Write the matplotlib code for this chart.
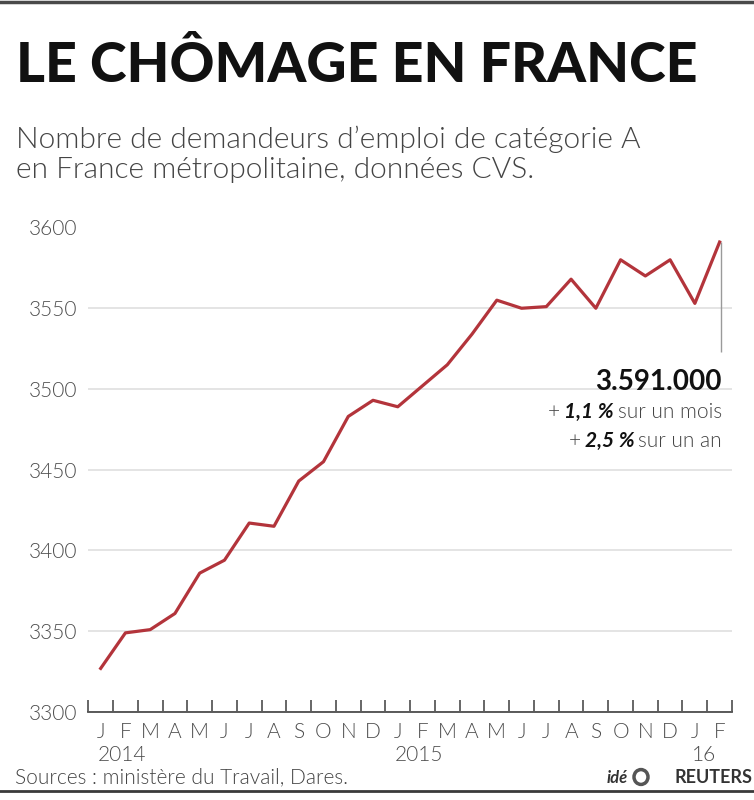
import matplotlib
matplotlib.use('Agg')
import matplotlib.pyplot as plt
from matplotlib.lines import Line2D
from matplotlib.patches import Circle
import numpy as np

# monthly values, Jan 2014 .. Feb 2016 (thousands)
months = ['J', 'F', 'M', 'A', 'M', 'J', 'J', 'A', 'S', 'O', 'N', 'D'] * 2 + ['J', 'F']
values = [3327, 3349, 3351, 3361, 3386, 3394, 3417, 3415, 3443, 3455, 3483, 3493,
          3489, 3502, 3515, 3534, 3555, 3550, 3551, 3568, 3550, 3580, 3570, 3580,
          3553, 3591]
years = ['2014', '2015', '16']
year_start = [0, 12, 24]
yticks = [3300, 3350, 3400, 3450, 3500, 3550, 3600]

title = 'LE CHÔMAGE EN FRANCE'
subtitle = ['Nombre de demandeurs d\u2019emploi de catégorie A',
            'en France métropolitaine, données CVS.']
last_label = '3.591.000'
month_change = '1,1 %'
year_change = '2,5 %'
source = 'Sources : ministère du Travail, Dares.'

plt.rcParams['font.family'] = ['Lato', 'DejaVu Sans']

W, H = 754, 800
fig = plt.figure(figsize=(W / 100, H / 100), dpi=100)
fig.patch.set_facecolor('white')


def fx(px):
    return px / W


def fy(py):
    return 1 - py / H


GREY = '#4d4d4d'

# plot area
ax = fig.add_axes([fx(88.3), fy(712), (732 - 88.3) / W, (712 - 227.5) / H])
n = len(values)
ax.plot(range(n), values, color='#b3343b', lw=2.3, zorder=3)
ax.set_xlim(-0.5, n - 0.5)
ax.set_ylim(yticks[0], yticks[-1])
for s in ['top', 'right', 'left']:
    ax.spines[s].set_visible(False)
ax.spines['bottom'].set_color(GREY)
ax.spines['bottom'].set_linewidth(1.3)
ax.spines['bottom'].set_zorder(4)

ax.set_yticks(yticks)
ax.set_yticklabels([str(v) for v in yticks])
ax.tick_params(axis='y', length=0, pad=8, labelsize=15, labelcolor=GREY)
for lab in ax.get_yticklabels():
    lab.set_fontweight(300)
ax.grid(axis='y', color='#e2e2e2', lw=1.3)
ax.set_axisbelow(True)

# month boundaries as ticks, month letters as labels in between
ax.set_xticks(np.arange(-0.5, n, 1))
ax.set_xticklabels([])
ax.tick_params(axis='x', which='major', direction='in', length=9, width=1.2, color=GREY)
ax.set_xticks(range(n), minor=True)
ax.set_xticklabels(months, minor=True, fontweight=300)
ax.tick_params(axis='x', which='minor', length=0, pad=7, labelsize=15, labelcolor=GREY)

for yr, i in zip(years, year_start):
    ax.text(i - 0.12, -0.068, yr, transform=ax.get_xaxis_transform(),
            ha='left', va='top', fontsize=15, fontweight=300, color=GREY)

# leader line under the last point
leader_bottom = 3523
ax.vlines(n - 1 + 0.05, leader_bottom, values[-1], color='#9a9a9a', lw=1, zorder=2)

# header
fig.text(fx(16), fy(82), title, ha='left', va='baseline', fontsize=40,
         fontweight='black', color='#111111')
for k, line in enumerate(subtitle):
    fig.text(fx(16), fy(148 + 30 * k), line, ha='left', va='baseline', fontsize=21.5,
             fontweight=300, color='#444444')

# annotation on the right
fig.text(fx(722), fy(390), last_label, ha='right', va='baseline', fontsize=20,
         fontweight='bold', color='#111111')

renderer = fig.canvas.get_renderer()


def row(pieces, x_right, y_base):
    x = x_right
    for txt, kw in reversed(pieces):
        t = fig.text(fx(x), fy(y_base), txt, ha='right', va='baseline', fontsize=15, **kw)
        bb = t.get_window_extent(renderer)
        x = bb.x0 - 4


plain = dict(color='#444444', fontweight=300)
strong = dict(color='#111111', fontweight='bold', fontstyle='italic')
row([('+', plain), (month_change, strong), ('sur un mois', plain)], 722, 418)
row([('+', plain), (year_change, strong), ('sur un an', plain)], 722, 447)

# footer
fig.text(fx(15), fy(783), source, ha='left', va='baseline', fontsize=15,
         fontweight=300, color='#444444')
fig.text(fx(628), fy(783), 'idé', ha='right', va='baseline', fontsize=12,
         fontweight='bold', fontstyle='italic', color='#333333')
fig.patches.append(Circle((fx(641), fy(777)), 7 / W, transform=fig.transFigure,
                          facecolor='white', edgecolor='#555555', lw=2.5))
fig.text(fx(753), fy(783), 'REUTERS', ha='right', va='baseline', fontsize=13,
         fontweight='bold', color='#333333')

# borders
fig.add_artist(Line2D([0, 1], [fy(1.5), fy(1.5)], transform=fig.transFigure,
                      color='#4a4a4a', lw=2.5))
fig.add_artist(Line2D([0, 1], [fy(791), fy(791)], transform=fig.transFigure,
                      color='#3a3a3a', lw=2))

fig.savefig('out.png', dpi=100, facecolor='white')
